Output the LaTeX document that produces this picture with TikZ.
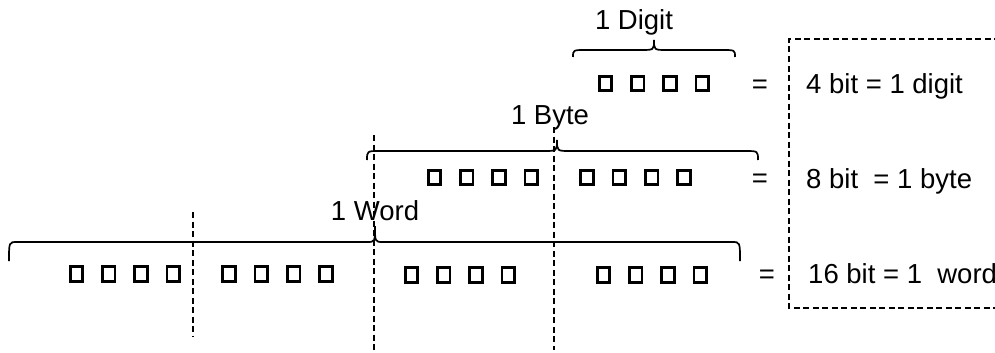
\documentclass[tikz,border=0pt]{standalone}
\usepackage{fontspec}
\setmainfont{Liberation Sans}
\tikzset{
  lbl/.style={anchor=base west, inner sep=0pt, font=\fontsize{27.5}{32}\selectfont},
  lblc/.style={anchor=base, inner sep=0pt, font=\fontsize{27.5}{32}\selectfont},
  bitbox/.style={draw, line width=2.7pt},
  divider/.style={line width=1.5pt, dash pattern=on 6pt off 3.5pt},
  bracket/.style={line width=1.7pt},
}
\newcommand\bitgroup[2]{% first centre x, centre y
  \foreach \k in {0,1,2,3}{
    \draw[bitbox] ({#1+32.3*\k-6.3},{#2-7.3}) rectangle ({#1+32.3*\k+6.3},{#2+7.3});
  }}
\newcommand\mybrace[7]{% x1 x2 xtip yend ytop ytip radius
  \draw[bracket] (#1,#4) .. controls (#1,#5) .. ({#1+#7},#5) -- ({#3-#7},#5)
    .. controls (#3,#5) .. (#3,#6) .. controls (#3,#5) .. ({#3+#7},#5)
    -- ({#2-#7},#5) .. controls (#2,#5) .. (#2,#4);}
\begin{document}
\begin{tikzpicture}[x=1pt,y=-1pt]
\useasboundingbox (0,0) rectangle (995,353);
\clip (0,0) rectangle (995,353);
% dashed dividers
\draw[divider] (193,212) -- (193,336);
\draw[divider] (374,135) -- (374,353);
\draw[divider] (554,127) -- (554,350);
% dashed box
\draw[divider] (1000,39) -- (789,39) -- (789,308) -- (1000,308);
% braces
\mybrace{573}{735}{654}{57}{50}{40}{13}
\mybrace{367}{758}{557}{160}{151}{140}{13}
\mybrace{9}{740}{375}{261}{242}{226}{8}
% labels
\node[lblc] (digit) at (634,30) {1 Digit};
\node[lblc] (byte) at (550,124) {1 Byte};
\node[lblc] (word) at (375,220) {1 Word};
% bits
\bitgroup{605.5}{83.5}
\bitgroup{434.5}{177.5}
\bitgroup{587}{177.5}
\bitgroup{76.5}{274}
\bitgroup{229}{274}
\bitgroup{411.5}{275}
\bitgroup{603.5}{275}
% equals
\node[lblc] (eq1) at (760,93) {=};
\node[lblc] (eq2) at (760,187) {=};
\node[lblc] (eq3) at (767,283) {=};
% right texts
\node[lbl] (t1) at (806,93) {4 bit = 1 digit};
\node[lbl] (t2) at (806,188) {8 bit\ \ = 1 byte};
\node[lbl] (t3) at (808,283) {16 bit = 1\ \ word};
\end{tikzpicture}
\end{document}
